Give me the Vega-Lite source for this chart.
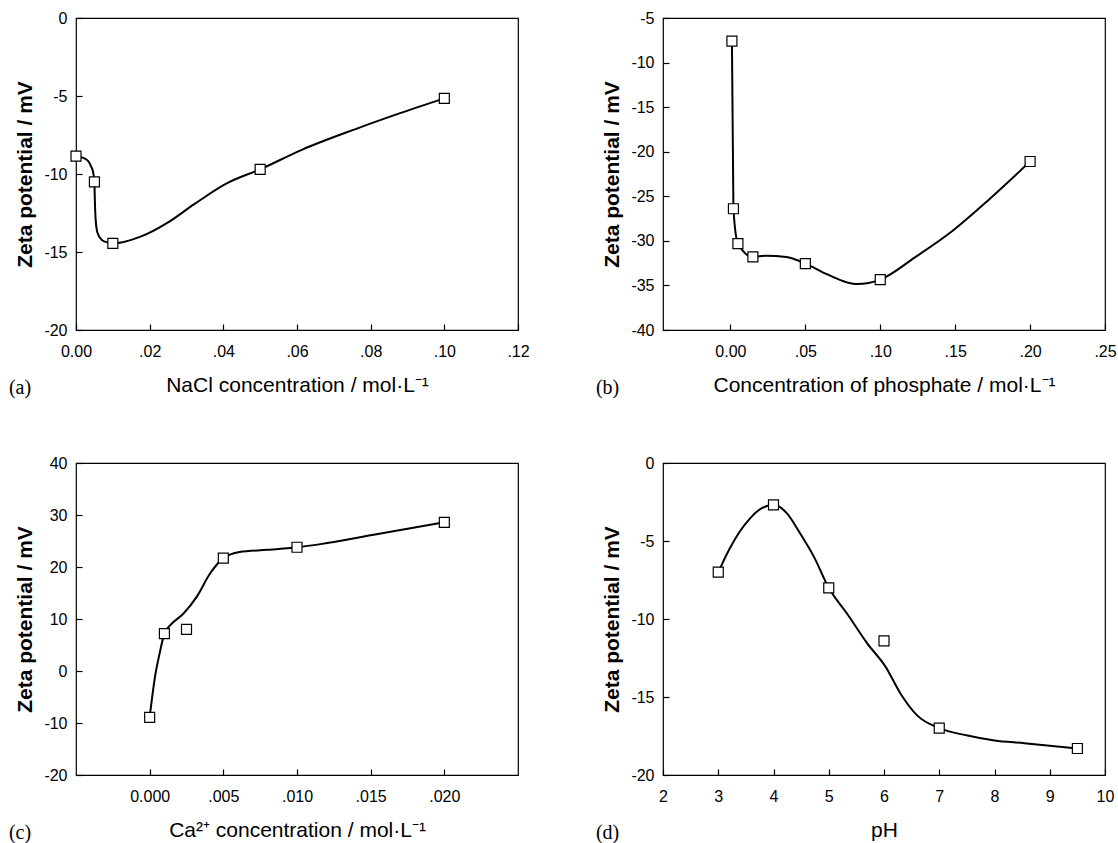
{
  "$schema": "https://vega.github.io/schema/vega-lite/v6.json",
  "padding": {"left": 8, "top": 9, "right": 2, "bottom": 2},
  "background": "white",
  "config": {
    "view": {"stroke": "black", "strokeWidth": 1.2},
    "axis": {
      "domain": false, "grid": false, "ticks": true, "tickSize": -6, "tickColor": "black", "tickWidth": 1.2,
      "labelFlush": false, "labelOverlap": false,
      "labelFont": "Liberation Sans", "labelFontSize": 16, "labelColor": "black",
      "titleFont": "Liberation Sans", "titleColor": "black"
    },
    "axisX": {"labelPadding": 19, "titleFontSize": 21, "titleFontWeight": "normal", "titlePadding": 15},
    "axisY": {"labelPadding": 15, "titleFontSize": 21, "titleFontWeight": "bold", "titlePadding": 8},
    "title": {"font": "Liberation Serif", "fontSize": 20, "fontWeight": "normal", "color": "black", "orient": "bottom", "anchor": "start", "frame": "bounds", "offset": -17, "dx": -6}
  },
  "datasets": {
    "aPts": [
      {"x": 0, "y": -8.85}, {"x": 0.005, "y": -10.5}, {"x": 0.01, "y": -14.45}, {"x": 0.05, "y": -9.7}, {"x": 0.1, "y": -5.15}
    ],
    "aCurve": [
      {"x": 0, "y": -8.85}, {"x": 0.003, "y": -9.1}, {"x": 0.0041, "y": -9.52}, {"x": 0.0047, "y": -9.95},
      {"x": 0.005, "y": -10.5}, {"x": 0.0051, "y": -11.5}, {"x": 0.0053, "y": -12.8}, {"x": 0.0058, "y": -13.75},
      {"x": 0.007, "y": -14.23}, {"x": 0.0088, "y": -14.4}, {"x": 0.01, "y": -14.45}, {"x": 0.0177, "y": -14.0},
      {"x": 0.025, "y": -13.1}, {"x": 0.032, "y": -11.95}, {"x": 0.0409, "y": -10.6}, {"x": 0.05, "y": -9.7},
      {"x": 0.0613, "y": -8.45}, {"x": 0.0759, "y": -7.12}, {"x": 0.088, "y": -6.1}, {"x": 0.1, "y": -5.15}
    ],
    "bPts": [
      {"x": 0.001, "y": -7.6}, {"x": 0.002, "y": -26.4}, {"x": 0.005, "y": -30.3}, {"x": 0.015, "y": -31.8},
      {"x": 0.05, "y": -32.55}, {"x": 0.1, "y": -34.35}, {"x": 0.2, "y": -21.1}
    ],
    "bCurve": [
      {"x": 0.001, "y": -7.6}, {"x": 0.002, "y": -26.4}, {"x": 0.005, "y": -30.3}, {"x": 0.015, "y": -31.8},
      {"x": 0.0237, "y": -31.67}, {"x": 0.0372, "y": -31.8}, {"x": 0.05, "y": -32.55}, {"x": 0.0643, "y": -33.73},
      {"x": 0.0779, "y": -34.66}, {"x": 0.0847, "y": -34.85}, {"x": 0.1, "y": -34.35}, {"x": 0.1231, "y": -31.86},
      {"x": 0.1468, "y": -29.07}, {"x": 0.173, "y": -25.3}, {"x": 0.2, "y": -21.1}
    ],
    "cPts": [
      {"x": 0, "y": -8.9}, {"x": 0.001, "y": 7.2}, {"x": 0.0025, "y": 8.0}, {"x": 0.005, "y": 21.7},
      {"x": 0.01, "y": 23.8}, {"x": 0.02, "y": 28.6}
    ],
    "cCurve": [
      {"x": 0, "y": -8.9}, {"x": 0.00038, "y": -0.8}, {"x": 0.00065, "y": 3.05}, {"x": 0.001, "y": 7.2},
      {"x": 0.0014, "y": 8.8}, {"x": 0.0023, "y": 11.05}, {"x": 0.0032, "y": 14.3}, {"x": 0.0041, "y": 18.74},
      {"x": 0.005, "y": 21.7}, {"x": 0.0061, "y": 22.9}, {"x": 0.008, "y": 23.3}, {"x": 0.01, "y": 23.8},
      {"x": 0.0116, "y": 24.4}, {"x": 0.0152, "y": 26.2}, {"x": 0.02, "y": 28.6}
    ],
    "dPts": [
      {"x": 3, "y": -7.0}, {"x": 4, "y": -2.68}, {"x": 5, "y": -8.0}, {"x": 6, "y": -11.4},
      {"x": 7, "y": -17.0}, {"x": 9.5, "y": -18.3}
    ],
    "dCurve": [
      {"x": 3, "y": -7.0}, {"x": 3.09, "y": -6.32}, {"x": 3.21, "y": -5.47}, {"x": 3.39, "y": -4.39},
      {"x": 3.58, "y": -3.53}, {"x": 3.76, "y": -2.96}, {"x": 3.91, "y": -2.72}, {"x": 4, "y": -2.68},
      {"x": 4.24, "y": -3.21}, {"x": 4.48, "y": -4.5}, {"x": 4.73, "y": -6.0}, {"x": 5, "y": -8.0},
      {"x": 5.33, "y": -9.65}, {"x": 5.7, "y": -11.58}, {"x": 6.03, "y": -13.07}, {"x": 6.3, "y": -14.79},
      {"x": 6.6, "y": -16.18}, {"x": 7, "y": -17.0}, {"x": 7.51, "y": -17.47}, {"x": 8.0, "y": -17.79},
      {"x": 8.54, "y": -17.96}, {"x": 9.5, "y": -18.3}
    ]
  },
  "spacing": 445,
  "bounds": "flush",
  "vconcat": [
    {
      "spacing": 145,
      "bounds": "flush",
      "hconcat": [
        {
          "width": 442, "height": 312,
          "title": {"text": "(a)"},
          "encoding": {
            "x": {"field": "x", "type": "quantitative", "scale": {"domain": [0, 0.12], "nice": false, "zero": false},
                  "axis": {"title": "NaCl concentration / mol·L⁻¹", "values": [0, 0.02, 0.04, 0.06, 0.08, 0.1, 0.12],
                           "labelExpr": "datum.value == 0 ? '0.00' : substring(format(datum.value, '.2f'), 1)"}},
            "y": {"field": "y", "type": "quantitative", "scale": {"domain": [-20, 0], "nice": false, "zero": false},
                  "axis": {"title": "Zeta potential / mV", "values": [-20, -15, -10, -5, 0], "labelExpr": "'' + datum.value"}}
          },
          "layer": [
            {"data": {"name": "aCurve"}, "mark": {"type": "line", "interpolate": "monotone", "color": "black", "strokeWidth": 2}},
            {"data": {"name": "aPts"}, "mark": {"type": "point", "shape": "square", "size": 100, "filled": true, "fill": "white", "stroke": "black", "strokeWidth": 1.2, "opacity": 1}}
          ]
        },
        {
          "width": 442, "height": 312,
          "title": {"text": "(b)"},
          "encoding": {
            "x": {"field": "x", "type": "quantitative", "scale": {"domain": [-0.045, 0.25], "nice": false, "zero": false},
                  "axis": {"title": "Concentration of phosphate / mol·L⁻¹", "values": [0, 0.05, 0.1, 0.15, 0.2, 0.25],
                           "labelExpr": "datum.value == 0 ? '0.00' : substring(format(datum.value, '.2f'), 1)"}},
            "y": {"field": "y", "type": "quantitative", "scale": {"domain": [-40, -5], "nice": false, "zero": false},
                  "axis": {"title": "Zeta potential / mV", "values": [-40, -35, -30, -25, -20, -15, -10, -5], "labelExpr": "'' + datum.value"}}
          },
          "layer": [
            {"data": {"name": "bCurve"}, "mark": {"type": "line", "interpolate": "monotone", "color": "black", "strokeWidth": 2}},
            {"data": {"name": "bPts"}, "mark": {"type": "point", "shape": "square", "size": 100, "filled": true, "fill": "white", "stroke": "black", "strokeWidth": 1.2, "opacity": 1}}
          ]
        }
      ]
    },
    {
      "spacing": 145,
      "bounds": "flush",
      "hconcat": [
        {
          "width": 442, "height": 312,
          "title": {"text": "(c)"},
          "encoding": {
            "x": {"field": "x", "type": "quantitative", "scale": {"domain": [-0.005, 0.025], "nice": false, "zero": false},
                  "axis": {"title": "Ca²⁺ concentration / mol·L⁻¹", "values": [0, 0.005, 0.01, 0.015, 0.02],
                           "labelExpr": "datum.value == 0 ? '0.000' : substring(format(datum.value, '.3f'), 1)"}},
            "y": {"field": "y", "type": "quantitative", "scale": {"domain": [-20, 40], "nice": false, "zero": false},
                  "axis": {"title": "Zeta potential / mV", "values": [-20, -10, 0, 10, 20, 30, 40], "labelExpr": "'' + datum.value"}}
          },
          "layer": [
            {"data": {"name": "cCurve"}, "mark": {"type": "line", "interpolate": "monotone", "color": "black", "strokeWidth": 2}},
            {"data": {"name": "cPts"}, "mark": {"type": "point", "shape": "square", "size": 100, "filled": true, "fill": "white", "stroke": "black", "strokeWidth": 1.2, "opacity": 1}}
          ]
        },
        {
          "width": 442, "height": 312,
          "title": {"text": "(d)"},
          "encoding": {
            "x": {"field": "x", "type": "quantitative", "scale": {"domain": [2, 10], "nice": false, "zero": false},
                  "axis": {"title": "pH", "values": [2, 3, 4, 5, 6, 7, 8, 9, 10], "labelExpr": "'' + datum.value"}},
            "y": {"field": "y", "type": "quantitative", "scale": {"domain": [-20, 0], "nice": false, "zero": false},
                  "axis": {"title": "Zeta potential / mV", "values": [-20, -15, -10, -5, 0], "labelExpr": "'' + datum.value"}}
          },
          "layer": [
            {"data": {"name": "dCurve"}, "mark": {"type": "line", "interpolate": "monotone", "color": "black", "strokeWidth": 2}},
            {"data": {"name": "dPts"}, "mark": {"type": "point", "shape": "square", "size": 100, "filled": true, "fill": "white", "stroke": "black", "strokeWidth": 1.2, "opacity": 1}}
          ]
        }
      ]
    }
  ]
}
